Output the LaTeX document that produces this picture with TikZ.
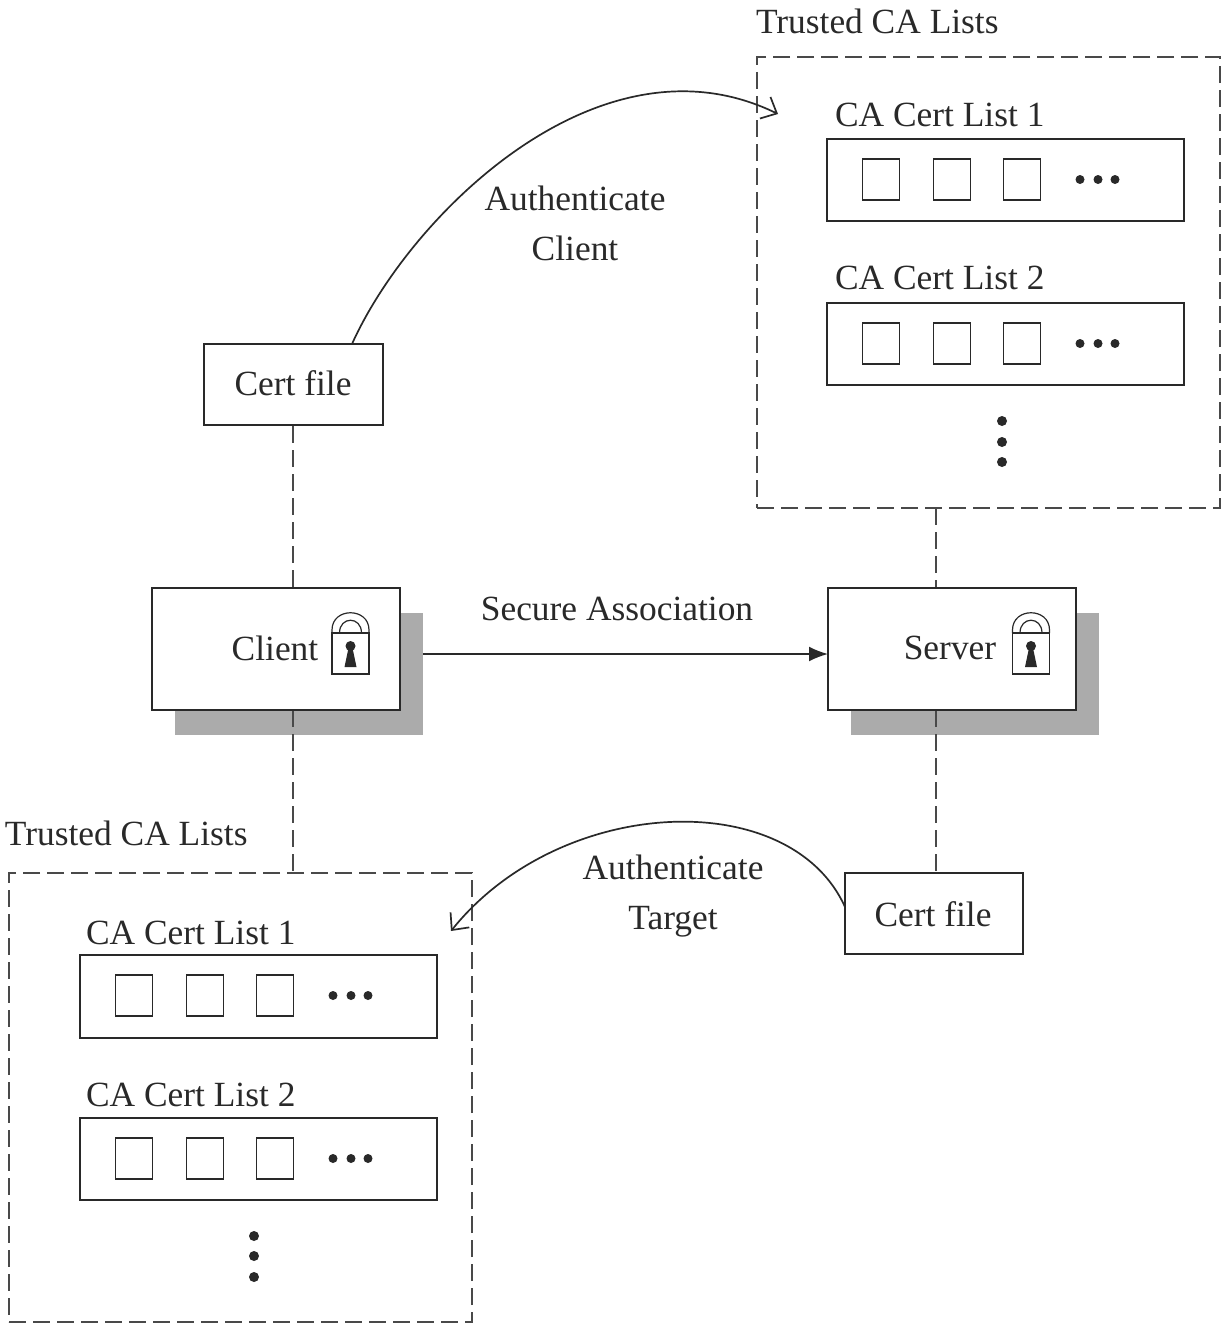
\documentclass[tikz,border=0pt]{standalone}
\usepackage{fontspec}
\setmainfont{Liberation Serif}
\usetikzlibrary{arrows.meta}
\definecolor{ink}{gray}{0.16}
\definecolor{shade}{gray}{0.67}
\tikzset{
  x=1pt,y=-1pt,
  every node/.style={text=ink,font=\fontsize{35.4}{40}\selectfont,inner sep=0pt,outer sep=0pt},
  box/.style={draw=ink,line width=2pt,fill=white,rectangle,anchor=north west},
  cell/.style={draw=ink,line width=1.8pt,fill=white,minimum width=37pt,minimum height=41pt,anchor=center},
  dotmark/.style={circle,fill=ink,minimum size=#1,anchor=center},
  dashlink/.style={draw=ink!85,line width=1.3pt,dash pattern=on 17pt off 7pt},
  dashframe/.style={draw=ink!85,line width=1.4pt,dash pattern=on 17pt off 7pt,anchor=north west},
  shadebox/.style={fill=shade,draw=none},
  curvelink/.style={draw=ink,line width=1.7pt},
  pics/lock/.style={code={
    \draw[ink,line width=1.2pt,fill=white] (-18.5,-15) -- (-18.5,-18) .. controls (-18.5,-41) and (18.5,-41) .. (18.5,-18) -- (18.5,-15);
    \draw[ink,line width=1.2pt] (-11,-15) .. controls (-11,-32) and (11,-32) .. (11,-15);
    \draw[ink,line width=1.3pt,fill=white] (-18.5,-15) rectangle (18.5,26);
    \fill[ink] (0,-2) circle (5);
    \fill[ink] (-2,0) -- (2,0) -- (6,19) -- (-6,19) -- cycle;
  }},
  pics/calist/.style args={#1/#2}{code={
    \node[box,minimum width=357pt,minimum height=#2] (#1box) at (0,0) {};
    \node[cell] (#1a) at (54,41) {};
    \node[cell] (#1b) at (125,41) {};
    \node[cell] (#1c) at (195,41) {};
    \node[dotmark=9pt] (#1d) at (253,41) {};
    \node[dotmark=9pt] (#1e) at (271,41) {};
    \node[dotmark=9pt] (#1f) at (288,41) {};
  }}
}
\begin{document}
\begin{tikzpicture}
\useasboundingbox (0,0) rectangle (1230,1330);
\fill[white] (0,0) rectangle (1230,1330);

% dashed containers
\node[dashframe,minimum width=463pt,minimum height=451pt] (ta) at (757,57) {};
\node[dashframe,minimum width=463pt,minimum height=449pt] (tb) at (9,873) {};

\node[anchor=west] (tal) at (756,21) {Trusted CA Lists};
\node[anchor=west] (tbl) at (5,833) {Trusted CA Lists};

% shadows
\fill[shadebox] (175,613) rectangle (423,735);
\fill[shadebox] (851,613) rectangle (1099,735);

% dashed links
\coordinate (cfa) at (293,426);
\coordinate (cla) at (293,588);
\coordinate (clb) at (293,710);
\coordinate (tbt) at (293,873);
\coordinate (tab) at (936,508);
\coordinate (sva) at (936,588);
\coordinate (svb) at (936,710);
\coordinate (cfb) at (936,873);
\draw[dashlink] (cfa) -- (cla);
\draw[dashlink] (clb) -- (tbt);
\draw[dashlink] (tab) -- (sva);
\draw[dashlink] (svb) -- (cfb);

% client, server
\node[box,minimum width=248pt,minimum height=122pt] (client) at (152,588) {};
\node[box,minimum width=248pt,minimum height=122pt] (server) at (828,588) {};
\node (clientl) at (275,648) {Client};
\node (serverl) at (950,648) {Server};
\pic at (350.5,648) {lock};
\pic at (1031,648) {lock};

% cert files
\node[box,minimum width=179pt,minimum height=81pt] (cf1) at (204,344) {};
\node (cf1l) at (293,383) {Cert file};
\node[box,minimum width=178pt,minimum height=81pt] (cf2) at (845,873) {};
\node (cf2l) at (933,914) {Cert file};

% lists
\pic at (827,138.5) {calist=A/82pt};
\pic at (827,302.5) {calist=B/82pt};
\pic at (80,954.5) {calist=C/83pt};
\pic at (80,1117.5) {calist=D/82pt};
\node[anchor=west] (al1) at (835,115) {CA Cert List 1};
\node[anchor=west] (al2) at (835,278) {CA Cert List 2};
\node[anchor=west] (cl1) at (86,933) {CA Cert List 1};
\node[anchor=west] (cl2) at (86,1095) {CA Cert List 2};
\node[dotmark=10pt] (v1) at (1002,421) {};
\node[dotmark=10pt] (v2) at (1002,442) {};
\node[dotmark=10pt] (v3) at (1002,462) {};
\node[dotmark=10pt] (v4) at (254,1236) {};
\node[dotmark=10pt] (v5) at (254,1256) {};
\node[dotmark=10pt] (v6) at (254,1277) {};

% arrows
\coordinate (sa) at (423,654);
\draw[curvelink,-{Latex[length=19pt,width=15pt]}] (sa) -- (server.west |- sa);
\node (sal) at (617,609) {Secure Association};

\coordinate (ca1) at (352,344);
\coordinate (ca2) at (778,114);
\draw[curvelink,-{Straight Barb[length=13pt,width=24pt]}] (ca1) .. controls (410,215) and (600,27) .. (ca2);
\node[align=center] (aul) at (575,223) {Authenticate\\[10pt]Client};

\coordinate (cb1) at (845,907);
\coordinate (cb2) at (451,931);
\draw[curvelink,-{Straight Barb[length=13pt,width=24pt]}] (cb1) .. controls (790,785) and (560,795) .. (cb2);
\node[align=center] (atl) at (673,896.5) {Authenticate\\[10pt]Target};
\end{tikzpicture}
\end{document}
